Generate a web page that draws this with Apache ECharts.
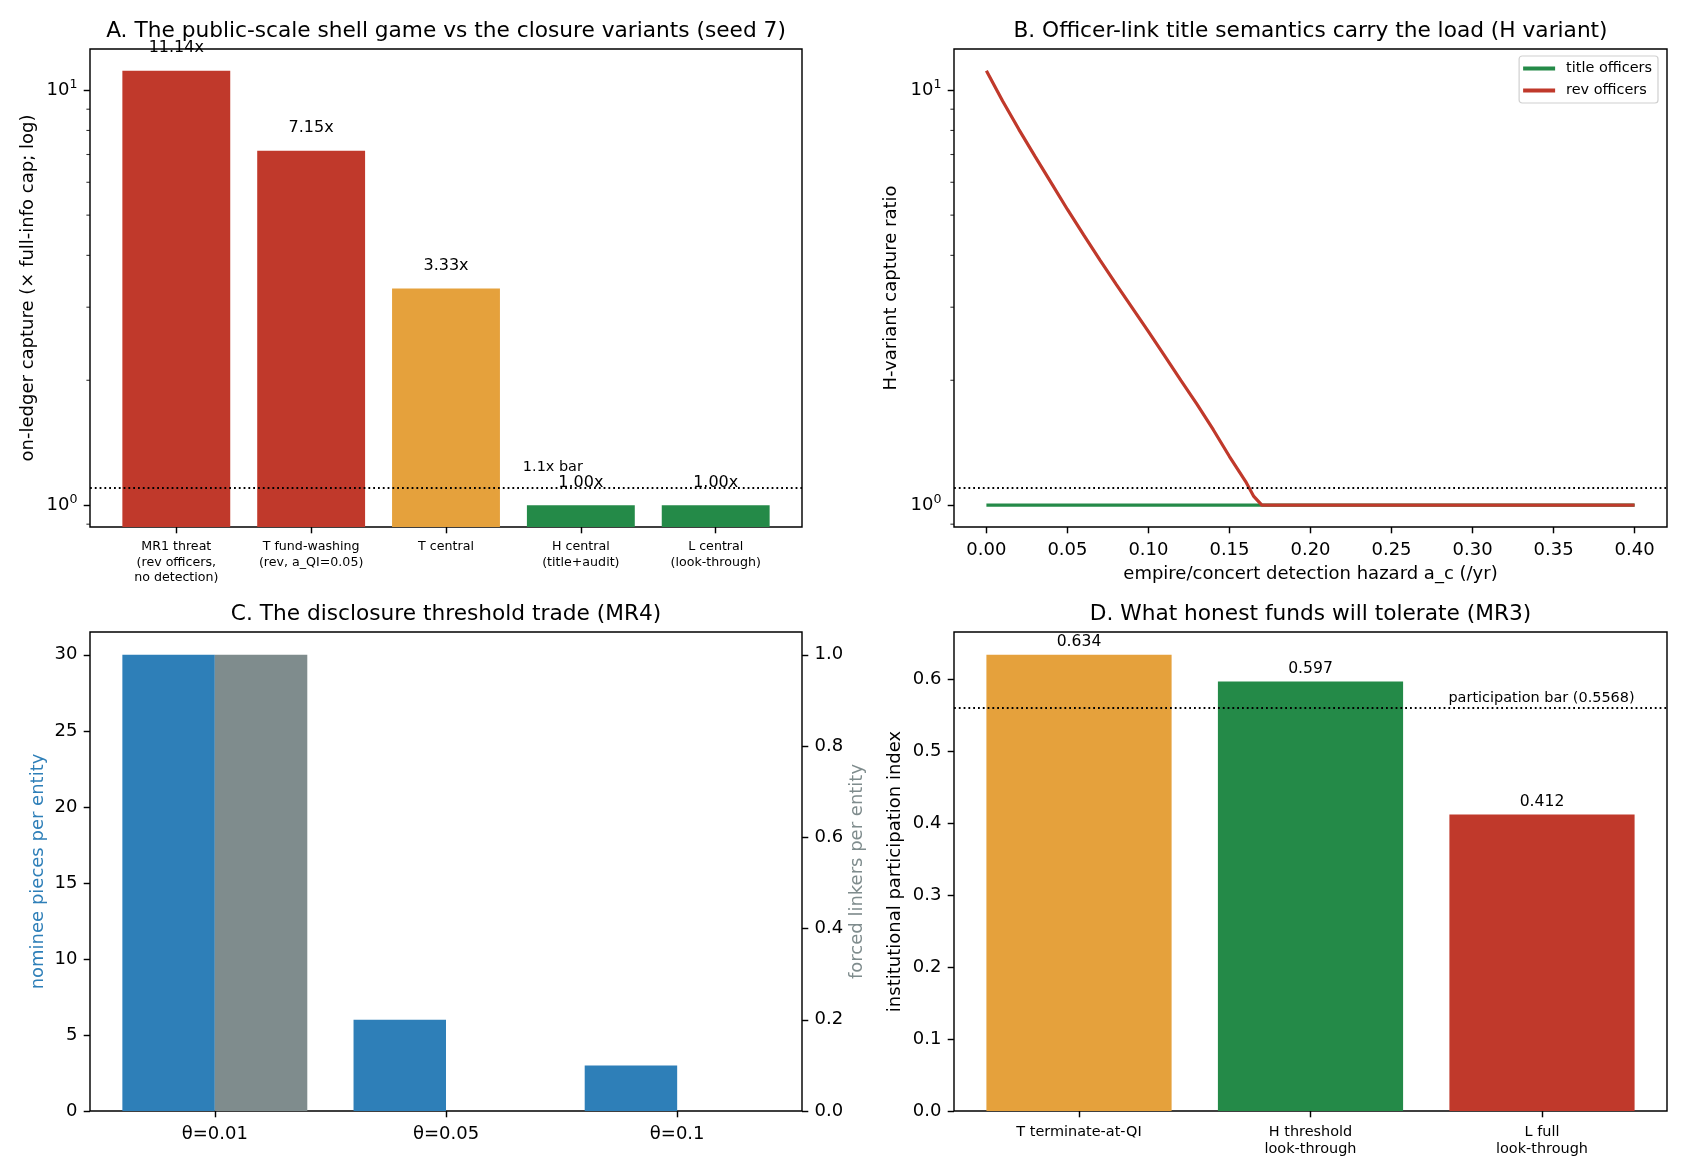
<!DOCTYPE html>
<html>
<head>
<meta charset="utf-8">
<script src="https://cdn.jsdelivr.net/npm/echarts@6/dist/echarts.min.js"></script>
<style>
html, body { margin: 0; background: #fff; }
#main { width: 1690px; height: 1170px; }
</style>
</head>
<body>
<div id="main"></div>
<script>
// A: capture by variant (log scale)
var shellCats = ['MR1 threat\n(rev officers,\nno detection)', 'T fund-washing\n(rev, a_QI=0.05)', 'T central', 'H central\n(title+audit)', 'L central\n(look-through)'];
var shellCapture = [11.14, 7.15, 3.33, 1.00, 1.00];
var captureBar = 1.1;
var logMajor = [1, 10];
var logMinor = [0.9, 2, 3, 4, 5, 6, 7, 8, 9];

// B: capture ratio vs detection hazard
var hazard = [0, 0.01, 0.02, 0.03, 0.04, 0.05, 0.06, 0.07, 0.08, 0.09, 0.10, 0.11, 0.12, 0.13, 0.14, 0.15, 0.16, 0.165, 0.17, 0.20, 0.25, 0.30, 0.35, 0.40];
var revOfficers = [11.14, 9.42, 8.05, 6.93, 5.98, 5.16, 4.48, 3.90, 3.41, 2.99, 2.62, 2.29, 2.00, 1.75, 1.52, 1.31, 1.14, 1.05, 1.00, 1.00, 1.00, 1.00, 1.00, 1.00];
var titleOfficers = [1, 1, 1, 1, 1, 1, 1, 1, 1, 1, 1, 1, 1, 1, 1, 1, 1, 1, 1, 1, 1, 1, 1, 1];
var hazardTicks = [0, 0.05, 0.10, 0.15, 0.20, 0.25, 0.30, 0.35, 0.40];

// C: disclosure threshold
var thetaCats = ['θ=0.01', 'θ=0.05', 'θ=0.1'];
var nomineePieces = [30, 6, 3];
var forcedLinkers = [1, 0, 0];
var nomineeTicks = [0, 5, 10, 15, 20, 25, 30];
var linkerTicks = [0, 0.2, 0.4, 0.6, 0.8, 1.0];

// D: participation
var fundCats = ['T terminate-at-QI', 'H threshold\nlook-through', 'L full\nlook-through'];
var participation = [0.634, 0.597, 0.412];
var participationBar = 0.5568;
var participationTicks = [0, 0.1, 0.2, 0.3, 0.4, 0.5, 0.6];

var RED = '#c0392b', ORANGE = '#e5a13c', GREEN = '#248a48', BLUE = '#2e7fb8', GREY = '#7f8c8d';
var shellColors = [RED, RED, ORANGE, GREEN, GREEN];
var fundColors = [ORANGE, GREEN, RED];
var FONT = 'DejaVu Sans';
var LOG_MIN = 0.886, LOG_MAX = 12.57;

var grids = [
    {left: 90, top: 49, width: 712, height: 478},
    {left: 954, top: 49, width: 713, height: 478},
    {left: 90, top: 632, width: 712, height: 479},
    {left: 954, top: 632, width: 713, height: 479}
];

var tickStyle = {color: '#000', width: 1.44};

function xAxisOf(grid, min, max, ticks, fmt, fontSize, lineHeight, extra) {
    var ax = {
        type: 'value', gridIndex: grid, min: min, max: max,
        splitLine: {show: false},
        axisLine: {show: false, onZero: false},
        axisTick: {customValues: ticks, length: 6.3, lineStyle: tickStyle},
        axisLabel: {customValues: ticks, formatter: fmt, fontSize: fontSize, lineHeight: lineHeight,
                    color: '#000', margin: 12.6, fontFamily: FONT}
    };
    for (var k in extra) ax[k] = extra[k];
    return ax;
}

function powLabel(v) {
    var e = Math.round(Math.log(v) / Math.LN10);
    return '{b|10}{s|' + e + '}';
}

function logAxis(grid, name, gap) {
    return {
        type: 'log', gridIndex: grid, min: LOG_MIN, max: LOG_MAX, startValue: LOG_MIN,
        splitLine: {show: false},
        axisLine: {show: false, onZero: false},
        axisTick: {customValues: logMajor, length: 6.3, lineStyle: tickStyle},
        axisLabel: {customValues: logMajor, formatter: powLabel, margin: 12.6,
            rich: {
                b: {fontSize: 18, color: '#000', fontFamily: FONT, lineHeight: 24},
                s: {fontSize: 12.6, color: '#000', fontFamily: FONT, verticalAlign: 'top', lineHeight: 14}
            }},
        name: name, nameLocation: 'middle', nameGap: gap, nameRotate: 90,
        nameTextStyle: {fontSize: 18, color: '#000', fontFamily: FONT}
    };
}

// short minor ticks of a log axis, placed at the axis through the log scale
function minorTicks(xi, yi, xmin) {
    return {
        type: 'scatter', xAxisIndex: xi, yAxisIndex: yi, silent: true, clip: false,
        symbol: 'rect', symbolSize: [3.6, 1.1], symbolOffset: [-1.8, 0],
        itemStyle: {color: '#000'}, z: 5,
        data: logMinor.map(function (v) { return [xmin, v]; })
    };
}

function linAxis(grid, min, max, ticks, decimals, name, gap, color, pos) {
    return {
        type: 'value', gridIndex: grid, min: min, max: max, position: pos,
        splitLine: {show: false},
        axisLine: {show: false, onZero: false},
        axisTick: {customValues: ticks, length: 6.3, lineStyle: tickStyle},
        axisLabel: {customValues: ticks, margin: 12.6, fontSize: 18, color: '#000', fontFamily: FONT,
                    formatter: function (v) { return v.toFixed(decimals); }},
        name: name, nameLocation: 'middle', nameGap: gap, nameRotate: 90,
        nameTextStyle: {fontSize: 18, color: color, fontFamily: FONT}
    };
}

var dotted = {type: [1.8, 3], color: '#000', width: 1.8};

function hline(val) {
    return {silent: true, symbol: ['none', 'none'], label: {show: false},
            lineStyle: dotted, data: [{yAxis: val}]};
}

function note(x, y, text, align, dist) {
    return {silent: true, symbolSize: 0,
            data: [{coord: [x, y], value: 0}],
            label: {show: true, position: 'top', distance: dist, align: align, formatter: text,
                    fontSize: 14.44, color: '#000', fontFamily: FONT}};
}

var idx5 = shellCats.map(function (c, i) { return i; });
var idx3 = thetaCats.map(function (c, i) { return i; });

var option = {
    animation: false,
    textStyle: {fontFamily: FONT},
    grid: grids.map(function (g) {
        return {left: g.left, top: g.top, width: g.width, height: g.height, show: true,
                borderColor: '#000', borderWidth: 1.44, backgroundColor: 'transparent',
                outerBoundsMode: 'none', containLabel: false};
    }),
    title: [
        {text: 'A. The public-scale shell game vs the closure variants (seed 7)', left: 446, top: 18},
        {text: 'B. Officer-link title semantics carry the load (H variant)', left: 1310.5, top: 18},
        {text: 'C. The disclosure threshold trade (MR4)', left: 446, top: 601},
        {text: 'D. What honest funds will tolerate (MR3)', left: 1310.5, top: 601}
    ].map(function (t) {
        t.textAlign = 'center';
        t.padding = 0;
        t.textStyle = {fontSize: 21.7, fontWeight: 'normal', color: '#000', fontFamily: FONT, lineHeight: 26};
        return t;
    }),
    legend: {
        data: ['title officers', 'rev officers'],
        orient: 'vertical', right: 32, top: 56,
        icon: 'rect', itemWidth: 32, itemHeight: 4, itemGap: 5,
        padding: [4, 6, 4, 4],
        backgroundColor: '#fff', borderColor: '#d0d0d0', borderWidth: 1.2, borderRadius: 3,
        textStyle: {fontSize: 14.44, color: '#000', fontFamily: FONT, lineHeight: 17, padding: [0, 0, 0, 6]}
    },
    xAxis: [
        xAxisOf(0, -0.64, 4.64, idx5, function (v) { return shellCats[Math.round(v)]; }, 12.64, 15.2, {}),
        xAxisOf(1, -0.02, 0.42, hazardTicks, function (v) { return v.toFixed(2); }, 18, 22, {
            name: 'empire/concert detection hazard a_c (/yr)', nameLocation: 'middle', nameGap: 38,
            nameTextStyle: {fontSize: 18, color: '#000', fontFamily: FONT}
        }),
        xAxisOf(2, -0.54, 2.54, idx3, function (v) { return thetaCats[Math.round(v)]; }, 18, 22, {}),
        xAxisOf(3, -0.54, 2.54, idx3, function (v) { return fundCats[Math.round(v)]; }, 14.44, 17.3, {})
    ],
    yAxis: [
        logAxis(0, 'on-ledger capture (× full-info cap; log)', 53),
        logAxis(1, 'H-variant capture ratio', 54),
        linAxis(2, 0, 31.5, nomineeTicks, 0, 'nominee pieces per entity', 43, BLUE, 'left'),
        linAxis(2, 0, 1.05, linkerTicks, 1, 'forced linkers per entity', 46, GREY, 'right'),
        linAxis(3, 0, 0.6657, participationTicks, 1, 'institutional participation index', 50, '#000', 'left')
    ],
    series: [
        {
            type: 'bar', xAxisIndex: 0, yAxisIndex: 0,
            barWidth: 0.8 * grids[0].width / 5.28,
            data: shellCapture.map(function (v, i) {
                return {value: [i, v], itemStyle: {color: shellColors[i]}};
            }),
            label: {show: true, position: 'top', distance: 14.5, fontSize: 16, color: '#000', fontFamily: FONT,
                    formatter: function (p) { return p.value[1].toFixed(2) + 'x'; }},
            markLine: hline(captureBar),
            markPoint: note(2.57, captureBar, '1.1x bar', 'left', 14)
        },
        minorTicks(0, 0, -0.64),
        {
            type: 'line', name: 'title officers', xAxisIndex: 1, yAxisIndex: 1,
            showSymbol: false, symbol: 'none', color: GREEN,
            lineStyle: {width: 3.2, color: GREEN},
            data: hazard.map(function (x, i) { return [x, titleOfficers[i]]; }),
            markLine: hline(captureBar)
        },
        {
            type: 'line', name: 'rev officers', xAxisIndex: 1, yAxisIndex: 1,
            showSymbol: false, symbol: 'none', color: RED,
            lineStyle: {width: 3.2, color: RED},
            data: hazard.map(function (x, i) { return [x, revOfficers[i]]; })
        },
        minorTicks(1, 1, -0.02),
        {
            type: 'bar', name: 'nominee pieces', xAxisIndex: 2, yAxisIndex: 2,
            barWidth: 0.4 * grids[2].width / 3.08, barGap: '0%',
            itemStyle: {color: BLUE},
            data: nomineePieces.map(function (v, i) { return [i, v]; })
        },
        {
            type: 'bar', name: 'forced linkers', xAxisIndex: 2, yAxisIndex: 3,
            barWidth: 0.4 * grids[2].width / 3.08, barGap: '0%',
            itemStyle: {color: GREY},
            data: forcedLinkers.map(function (v, i) { return [i, v]; })
        },
        {
            type: 'bar', xAxisIndex: 3, yAxisIndex: 4,
            barWidth: 0.8 * grids[3].width / 3.08,
            data: participation.map(function (v, i) {
                return {value: [i, v], itemStyle: {color: fundColors[i]}};
            }),
            label: {show: true, position: 'top', distance: 4.5, fontSize: 15.6, color: '#000', fontFamily: FONT,
                    formatter: function (p) { return p.value[1].toFixed(3); }},
            markLine: hline(participationBar),
            markPoint: note(2.4, participationBar, 'participation bar (0.5568)', 'right', 5.5)
        }
    ]
};

var myChart = echarts.init(document.getElementById('main'));
myChart.setOption(option);
</script>
</body>
</html>
